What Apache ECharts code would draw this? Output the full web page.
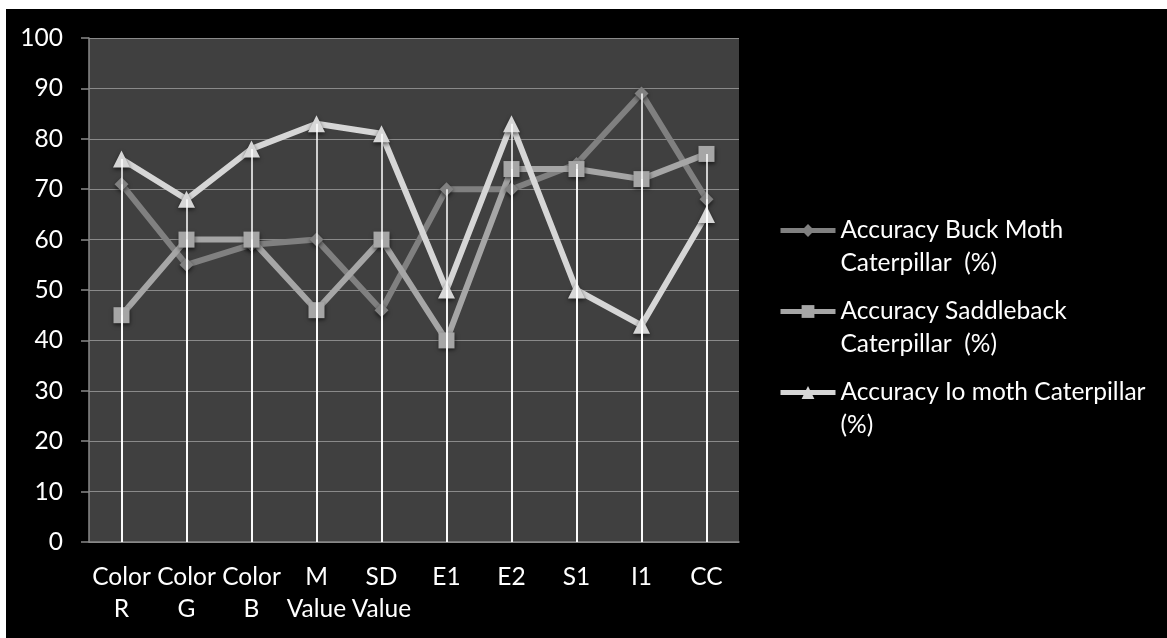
<!DOCTYPE html>
<html>
<head>
<meta charset="utf-8">
<script src="https://cdn.jsdelivr.net/npm/echarts@6/dist/echarts.min.js"></script>
<style>
  html, body { margin: 0; padding: 0; background: #ffffff; }
  #chart { position: absolute; left: 6px; top: 9px; width: 1161px; height: 629px; background: #000000; }
</style>
</head>
<body>
<div id="chart"></div>
<script>
// Feature categories along the x axis
const categories = ['Color\nR', 'Color\nG', 'Color\nB', 'M\nValue', 'SD\nValue', 'E1', 'E2', 'S1', 'I1', 'CC'];

// Accuracy (%) per feature for each caterpillar type
const buckMoth    = [71, 55, 59, 60, 46, 70, 70, 75, 89, 68];
const saddleback  = [45, 60, 60, 46, 60, 40, 74, 74, 72, 77];
const ioMoth      = [76, 68, 78, 83, 81, 50, 83, 50, 43, 65];

const seriesNames = [
  'Accuracy Buck Moth Caterpillar  (%)',
  'Accuracy Saddleback Caterpillar  (%)',
  'Accuracy Io moth Caterpillar (%)'
];
const legendLabels = [
  'Accuracy Buck Moth\nCaterpillar  (%)',
  'Accuracy Saddleback\nCaterpillar  (%)',
  'Accuracy Io moth Caterpillar\n(%)'
];

const FONT = 'Lato';
const FONT_SIZE = 24.5;

// vertical drop lines from each point down to the axis
function dropLines(values) {
  return values.map((v, i) => [
    { coord: [i, 0] },
    { coord: [i, v] }
  ]);
}

function makeSeries(name, values, color, symbol, size) {
  return {
    name: name,
    type: 'line',
    data: values,
    symbol: symbol,
    symbolSize: size,
    lineStyle: { color: color, width: 6 },
    itemStyle: {
      color: color,
      shadowBlur: 4,
      shadowColor: 'rgba(0,0,0,0.6)',
      shadowOffsetY: 2
    },
    markLine: {
      silent: true,
      symbol: ['none', 'none'],
      label: { show: false },
      lineStyle: { color: '#ffffff', width: 1.5, type: 'solid', opacity: 1 },
      emphasis: { disabled: true },
      data: dropLines(values)
    }
  };
}

const chart = echarts.init(document.getElementById('chart'), null, { renderer: 'canvas' });

chart.setOption({
  animation: false,
  backgroundColor: '#000000',
  grid: { left: 83, top: 29, width: 650, height: 504, show: true, backgroundColor: '#404040', borderWidth: 0 },
  legend: {
    orient: 'vertical',
    left: 772,
    top: 172,
    padding: 0,
    itemWidth: 55,
    itemHeight: 16,
    itemGap: -18,
    lineStyle: { width: 5 },
    data: seriesNames,
    // a leading blank line keeps the first text line level with the icon
    formatter: function (n) { return ' \n' + legendLabels[seriesNames.indexOf(n)]; },
    textStyle: {
      color: '#ffffff',
      fontFamily: FONT,
      fontSize: FONT_SIZE,
      lineHeight: 33
    }
  },
  xAxis: {
    type: 'category',
    data: categories,
    boundaryGap: true,
    axisLine: { show: true, lineStyle: { color: '#888888', width: 1.5 } },
    axisTick: { show: false },
    splitLine: { show: false },
    axisLabel: {
      color: '#ffffff',
      fontFamily: FONT,
      fontSize: FONT_SIZE,
      lineHeight: 32,
      margin: 19,
      interval: 0
    }
  },
  yAxis: {
    type: 'value',
    min: 0,
    max: 100,
    interval: 10,
    axisLine: { show: true, lineStyle: { color: '#888888', width: 1.5 } },
    axisTick: { show: true, length: 8, lineStyle: { color: '#888888', width: 1.5 } },
    splitLine: { show: true, lineStyle: { color: '#8a8a8a', width: 1 } },
    axisLabel: {
      color: '#ffffff',
      fontFamily: FONT,
      fontSize: FONT_SIZE,
      margin: 26
    }
  },
  series: [
    makeSeries(seriesNames[0], buckMoth, '#808080', 'diamond', 14),
    makeSeries(seriesNames[1], saddleback, '#a6a6a6', 'rect', 16),
    makeSeries(seriesNames[2], ioMoth, '#d6d6d6', 'triangle', 17)
  ]
});
</script>
</body>
</html>
